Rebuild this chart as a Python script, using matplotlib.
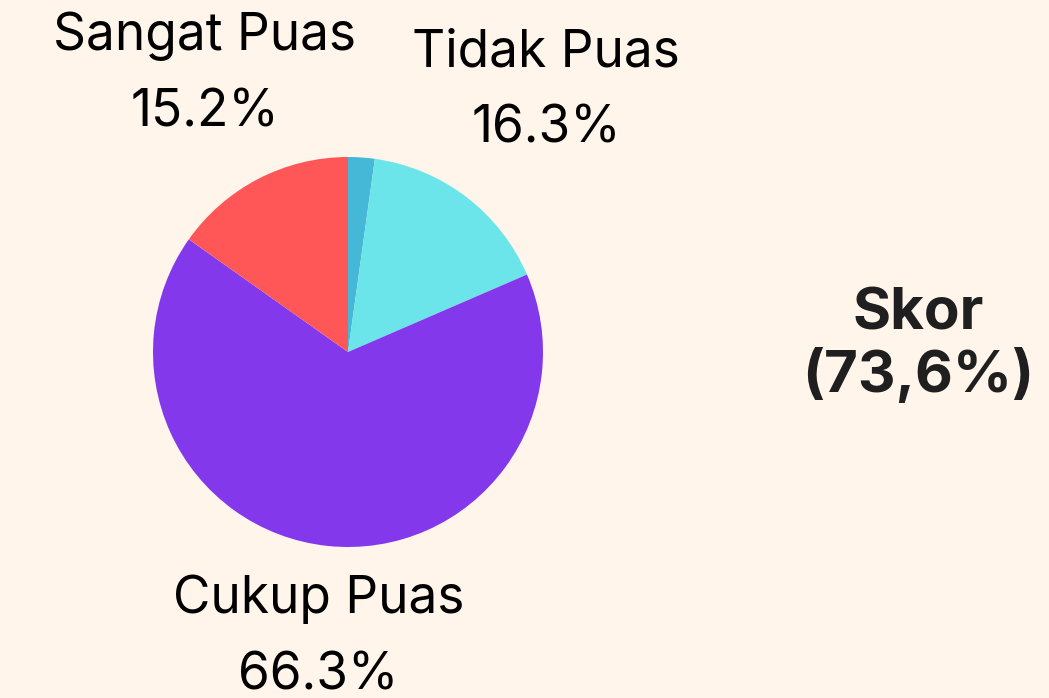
import matplotlib
matplotlib.use("Agg")
import matplotlib.pyplot as plt
import numpy as np

categories = ["Sangat Tidak Puas", "Tidak Puas", "Cukup Puas", "Sangat Puas"]
values = [2.2, 16.3, 66.3, 15.2]
show_label = [False, True, True, True]
colors = ["#45B8D8", "#6BE4EA", "#8338EC", "#FF5757"]
label_dist = [1.6, 1.68, 1.47, 1.60]
score_title = "Skor"
score_value = "(73,6%)"

BG = "#FFF5EB"
W, H = 1049, 698
fig = plt.figure(figsize=(W / 100, H / 100), dpi=100, facecolor=BG)

R = 195.0
cx, cy = 348.0, H - 352.0
span = 1.8
side = 2 * span * R
ax = fig.add_axes([(cx - side / 2) / W, (cy - side / 2) / H, side / W, side / H])
ax.set_facecolor(BG)
ax.axis("off")

wedges, _ = ax.pie(values, colors=colors, startangle=90, counterclock=False,
                   radius=1, wedgeprops=dict(linewidth=0))
ax.set_xlim(-span, span)
ax.set_ylim(-span, span)

font = "Inter"
for w, cat, v, show, d in zip(wedges, categories, values, show_label, label_dist):
    if not show:
        continue
    ang = np.deg2rad((w.theta1 + w.theta2) / 2)
    x, y = d * np.cos(ang), d * np.sin(ang)
    ax.text(x, y, f"{cat}\n{v:.1f}%", ha="center", va="center",
            fontsize=37, family=font, color="black", linespacing=1.72,
            clip_on=False)

fig.text(918 / W, 1 - 346 / H, f"{score_title}\n{score_value}", ha="center",
         va="center", fontsize=42, fontweight="bold", family=font,
         color="#1F1F1F", linespacing=1.14)

fig.savefig("out.png", dpi=100, facecolor=BG)
